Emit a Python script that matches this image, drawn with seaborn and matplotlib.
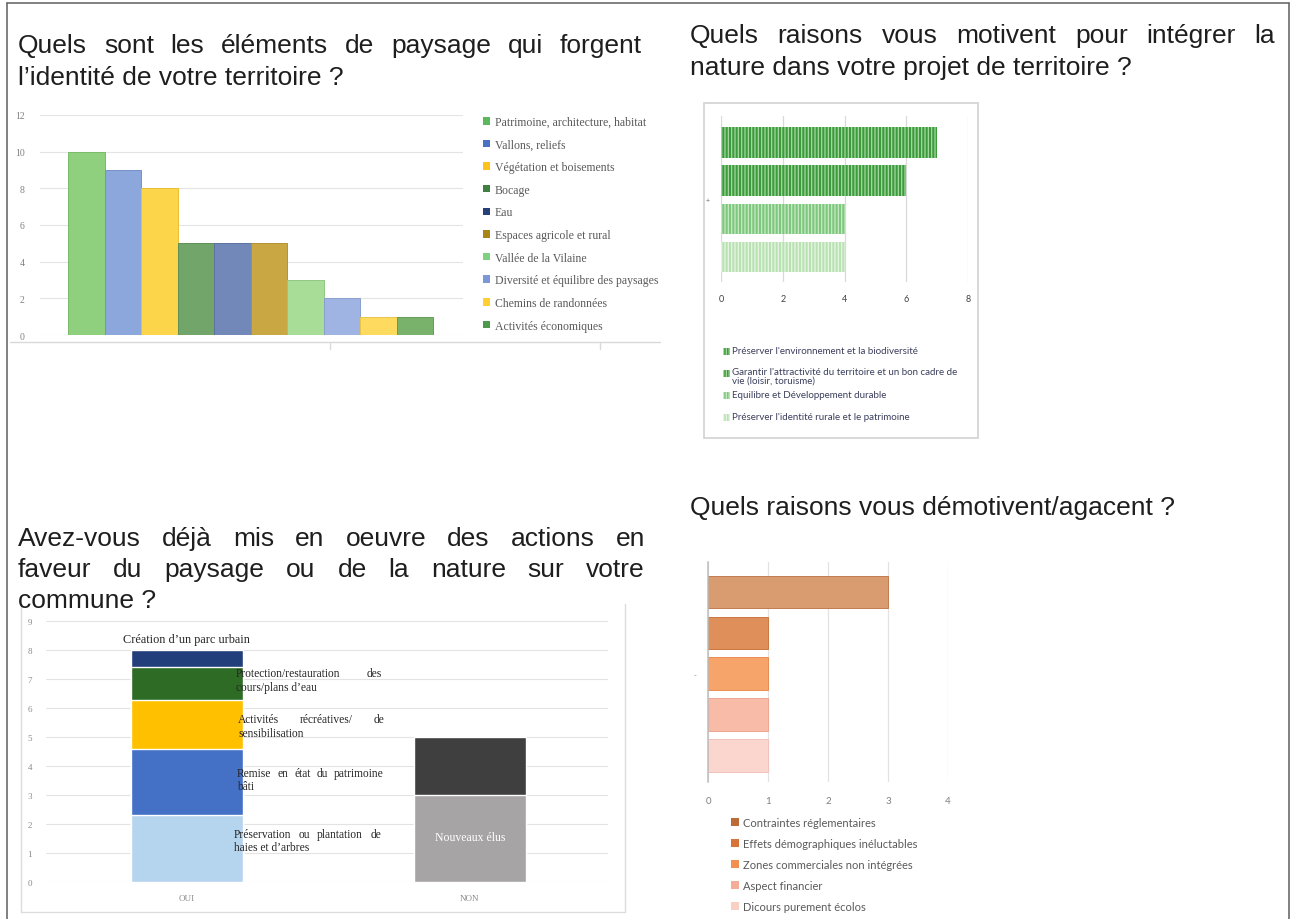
import matplotlib
matplotlib.use("Agg")
import matplotlib.pyplot as plt
from matplotlib.patches import Rectangle
from matplotlib.lines import Line2D
import pandas as pd
import seaborn as sns

# ---------------- data ----------------
paysage_labels = [
    "Patrimoine, architecture, habitat", "Vallons, reliefs", "Végétation et boisements",
    "Bocage", "Eau", "Espaces agricole et rural", "Vallée de la Vilaine",
    "Diversité et équilibre des paysages", "Chemins de randonnées", "Activités économiques",
]
paysage_counts = [10, 9, 8, 5, 5, 5, 3, 2, 1, 1]

motiv_labels = [
    "Préserver l'environnement et la biodiversité",
    "Garantir l'attractivité du territoire et un bon cadre de\nvie (loisir, toruisme)",
    "Equilibre et Développement durable",
    "Préserver l'identité rurale et le patrimoine",
]
motiv_counts = [7, 6, 4, 4]

actions_cats = ["OUI", "NON"]
oui_actions = [
    "Préservation ou plantation de haies et d’arbres",
    "Remise en état du patrimoine bâti",
    "Activités récréatives/ de sensibilisation",
    "Protection/restauration des cours/plans d’eau",
    "Création d’un parc urbain",
]
oui_values = [2.3, 2.28, 1.7, 1.15, 0.57]
non_actions = ["Nouveaux élus", ""]
non_values = [3, 2]

demot_labels = [
    "Contraintes réglementaires", "Effets démographiques inéluctables",
    "Zones commerciales non intégrées", "Aspect financier", "Dicours purement écolos",
]
demot_counts = [3, 1, 1, 1, 1]

title_1 = ["Quels sont les éléments de paysage qui forgent", "l’identité de votre territoire ?"]
title_2 = ["Quels raisons vous motivent pour intégrer la", "nature dans votre projet de territoire ?"]
title_3 = ["Avez-vous déjà mis en oeuvre des actions en",
           "faveur du paysage ou de la nature sur votre", "commune ?"]
title_4 = ["Quels raisons vous démotivent/agacent ?"]

# ---------------- styling ----------------
paysage_colors = ["#8fd07f", "#8ba7dc", "#fdd54b", "#72a56a", "#7288b8",
                  "#c9a843", "#a8dd98", "#a0b4e3", "#fedb5e", "#78b26b"]
paysage_edges = ["#78bb6a", "#7690c8", "#e8bf35", "#5f8f58", "#5d72a0",
                 "#b39232", "#90c884", "#8a9fcf", "#e8c448", "#649c5a"]
paysage_swatch = ["#5cb85c", "#4a72c4", "#ffc21a", "#3f7f3f", "#26407a",
                  "#a98417", "#7fd07f", "#7c97d6", "#ffcf33", "#4d9a4d"]

motiv_faces = ["#3c9b3c", "#3c9b3c", "#7ec77e", "#b9e2b3"]
motiv_stripes = ["#a6d8a0", "#a6d8a0", "#c8ebc4", "#e6f5e3"]

oui_colors = ["#b5d4ee", "#4470c6", "#ffc000", "#2e6b24", "#223f7c"]
non_colors = ["#a6a4a4", "#3f3f3f"]

demot_colors = ["#d99b70", "#de8f5a", "#f7a46b", "#f8bba8", "#fad6cf"]
demot_edges = ["#c47b50", "#c9773f", "#e88d52", "#eea592", "#f0c3ba"]
demot_swatch = ["#bd6a3b", "#d8743a", "#f2904f", "#f4ad98", "#f9cfc6"]

sns.set_theme(style="white")
plt.rcParams["font.family"] = ["Liberation Sans", "DejaVu Sans"]
plt.rcParams["hatch.linewidth"] = 0.9

SERIF = ["Liberation Serif", "DejaVu Serif"]
CALI = ["Lato", "DejaVu Sans"]

W, H = 1294, 920
fig = plt.figure(figsize=(W / 100, H / 100), dpi=100)
fig.patch.set_facecolor("white")
renderer = fig.canvas.get_renderer()


def fx(x):
    return x / W


def fy(y):
    return 1 - y / H


def box(x0, y0, x1, y1):
    return [fx(x0), fy(y1), (x1 - x0) / W, (y1 - y0) / H]


def put_line(owner, text, x0, y, x1=None, **kw):
    """Write one line of text at pixel position; spread the words to x1 if given."""
    words = text.split() if x1 is not None else [text]
    items = [owner.text(0, fy(y), w, transform=fig.transFigure, ha="left",
                        va="baseline", **kw) for w in words]
    widths = [t.get_window_extent(renderer).width for t in items]
    gap = (x1 - x0 - sum(widths)) / (len(words) - 1) if len(words) > 1 else 0
    pos = x0
    for t, w in zip(items, widths):
        t.set_x(fx(pos))
        pos += w + gap
    return items


def put_title(lines, x0, x1, y0, step):
    for i, line in enumerate(lines):
        last = i == len(lines) - 1
        put_line(fig, line, x0, y0 + i * step, None if last else x1,
                 fontsize=19, color="#1e1e1e")


def hline(x0, x1, y, **kw):
    fig.add_artist(Line2D([fx(x0), fx(x1)], [fy(y), fy(y)], transform=fig.transFigure, **kw))


def vline(x, y0, y1, **kw):
    fig.add_artist(Line2D([fx(x), fx(x)], [fy(y0), fy(y1)], transform=fig.transFigure, **kw))


# page frame
frame = dict(color="#6b6b6b", lw=1.2)
hline(7, 1289, 4, **frame)
vline(7, 4, 920, **frame)
vline(1289, 4, 920, **frame)

# ---------------- titles ----------------
put_title(title_1, 18, 642, 53, 32)
put_title(title_2, 690, 1275, 43, 32)
put_title(title_3, 18, 645, 546, 31)
put_title(title_4, 690, None, 515, 32)

# ---------------- chart 1 : landscape elements ----------------
ax1 = fig.add_axes(box(40, 116, 463, 336))
df1 = pd.DataFrame({"element": paysage_labels, "n": paysage_counts})
sns.barplot(data=df1, x="element", y="n", hue="element", palette=paysage_colors,
            width=1, saturation=1, legend=False, ax=ax1)
for p, ec in zip(ax1.patches, paysage_edges):
    p.set_edgecolor(ec)
    p.set_linewidth(0.7)
ax1.set_xlim(-1.267, 10.32)
ax1.set_ylim(0, 12)
ax1.set_yticks(range(0, 13, 2))
ax1.set_xticks([])
ax1.set_xlabel("")
ax1.set_ylabel("")
ax1.grid(axis="y", color="#e4e4e4", lw=0.8)
ax1.set_axisbelow(True)
sns.despine(ax=ax1, left=True, bottom=True)
ax1.tick_params(axis="y", length=0, pad=11, labelsize=7, labelcolor="#808080")
for lab in ax1.get_yticklabels():
    lab.set_fontfamily(SERIF)
handles1 = [Rectangle((0, 0), 1, 1, fc=c, ec="none") for c in paysage_swatch]
fig.legend(handles1, paysage_labels, loc="upper left", bbox_to_anchor=(fx(483), fy(117)),
           frameon=False, borderpad=0, borderaxespad=0, handlelength=0.6, handleheight=0.6,
           handletextpad=0.4, labelspacing=0.9, labelcolor="#5a5a5a",
           prop={"family": SERIF, "size": 8.5})
hline(10, 660, 343, color="#d9d9d9", lw=1)
vline(330, 343, 350, color="#d9d9d9", lw=1)
vline(600, 343, 350, color="#d9d9d9", lw=1)

# ---------------- chart 2 : motivations ----------------
fig.add_artist(Rectangle((fx(704), fy(439)), (978 - 704) / W, (439 - 104) / H,
                         transform=fig.transFigure, fc="none", ec="#d2d2d2", lw=1.2))
ax2 = fig.add_axes(box(721, 117, 968, 283))
df2 = pd.DataFrame({"raison": motiv_labels, "n": motiv_counts})
sns.barplot(data=df2, y="raison", x="n", hue="raison", palette=motiv_faces, orient="h",
            width=0.8, saturation=1, legend=False, ax=ax2)
for p, stripe in zip(ax2.patches, motiv_stripes):
    p.set_hatch("|||||")
    p.set_edgecolor(stripe)
    p.set_linewidth(0)
ax2.set_xlim(0, 8)
ax2.set_ylim(3.654, -0.694)
ax2.set_xticks(range(0, 9, 2))
ax2.set_yticks([])
ax2.set_xlabel("")
ax2.set_ylabel("")
ax2.grid(axis="x", color="#d9d9d9", lw=0.9)
ax2.set_axisbelow(True)
sns.despine(ax=ax2, left=True, bottom=True)
ax2.tick_params(axis="x", length=0, pad=9, labelsize=6.5, labelcolor="#404040")
for lab in ax2.get_xticklabels():
    lab.set_fontfamily(CALI)
fig.text(fx(708), fy(201), "+", fontsize=5, color="#707070", ha="center", va="center")

legend2_y = [352, 374, 396, 418]
for lab, face, stripe, y in zip(motiv_labels, motiv_faces, motiv_stripes, legend2_y):
    fig.add_artist(Rectangle((fx(723), fy(y + 3.5)), 7 / W, 7 / H, transform=fig.transFigure,
                             fc=face, ec=stripe, lw=0, hatch="||||||"))
    two_lines = "\n" in lab
    fig.text(fx(732), fy(y - 6) if two_lines else fy(y), lab, fontsize=7,
             color="#3a3f5c", family=CALI, ha="left",
             va="top" if two_lines else "center", linespacing=1.0)

# ---------------- chart 3 : actions already carried out ----------------
panel3 = dict(color="#dcdcdc", lw=1)
vline(21, 605, 913, **panel3)
vline(625, 605, 913, **panel3)
hline(21, 625, 913, **panel3)
ax3 = fig.add_axes(box(46, 622, 608, 883))
for cat, vals, cols in (("OUI", oui_values, oui_colors), ("NON", non_values, non_colors)):
    tops = pd.Series(vals).cumsum().tolist()
    for top, col in reversed(list(zip(tops, cols))):
        sns.barplot(x=[cat], y=[top], order=actions_cats, color=col, width=0.396,
                    saturation=1, ax=ax3)
ax3.set_xlim(-0.498, 1.488)
ax3.set_ylim(0, 9)
ax3.set_yticks(range(0, 10))
ax3.set_xlabel("")
ax3.set_ylabel("")
ax3.grid(axis="y", color="#e3e3e3", lw=0.8)
ax3.set_axisbelow(True)
sns.despine(ax=ax3, left=True, bottom=True)
ax3.tick_params(axis="both", length=0, labelsize=6.5, labelcolor="#8a8a8a")
ax3.tick_params(axis="y", pad=10)
ax3.tick_params(axis="x", pad=9)
for lab in ax3.get_yticklabels() + ax3.get_xticklabels():
    lab.set_fontfamily(SERIF)

note = dict(fontsize=8.3, color="#262626", family=SERIF, zorder=3)
put_line(ax3, "Création d’un parc urbain", 123, 643, **dict(note, fontsize=8.8))
put_line(ax3, "Protection/restauration des", 236, 677, 382, **note)
put_line(ax3, "cours/plans d’eau", 236, 691, **note)
put_line(ax3, "Activités récréatives/ de", 238, 723, 384, **note)
put_line(ax3, "sensibilisation", 238, 737, **note)
put_line(ax3, "Remise en état du patrimoine", 237, 777, 384, **note)
put_line(ax3, "bâti", 237, 790, **note)
put_line(ax3, "Préservation ou plantation de", 234, 838, 381, **note)
put_line(ax3, "haies et d’arbres", 234, 851, **note)
ax3.text(1, non_values[0] / 2 + 0.05, non_actions[0], ha="center", va="center",
         fontsize=8.5, color="white", family=SERIF, zorder=3)

# ---------------- chart 4 : what is discouraging ----------------
ax4 = fig.add_axes(box(708, 563, 948, 783))
df4 = pd.DataFrame({"raison": demot_labels, "n": demot_counts})
sns.barplot(data=df4, y="raison", x="n", hue="raison", palette=demot_colors, orient="h",
            width=0.795, saturation=1, legend=False, ax=ax4)
for p, ec in zip(ax4.patches, demot_edges):
    p.set_edgecolor(ec)
    p.set_linewidth(0.7)
ax4.set_xlim(0, 4)
ax4.set_ylim(4.648, -0.733)
ax4.set_xticks(range(0, 5))
ax4.set_yticks([])
ax4.set_xlabel("")
ax4.set_ylabel("")
ax4.grid(axis="x", color="#e2e2e2", lw=0.9)
ax4.set_axisbelow(True)
sns.despine(ax=ax4, left=False, bottom=True)
ax4.spines["left"].set_color("#bdbdbd")
ax4.spines["left"].set_linewidth(1.1)
ax4.tick_params(axis="x", length=0, pad=10, labelsize=7, labelcolor="#7f7f7f")
for lab in ax4.get_xticklabels():
    lab.set_fontfamily(CALI)
fig.text(fx(695), fy(676), "-", fontsize=6, color="#909090", ha="center", va="center")
handles4 = [Rectangle((0, 0), 1, 1, fc=c, ec="none") for c in demot_swatch]
fig.legend(handles4, demot_labels, loc="upper left", bbox_to_anchor=(fx(731), fy(818)),
           frameon=False, borderpad=0, borderaxespad=0, handlelength=0.7, handleheight=0.7,
           handletextpad=0.35, labelspacing=0.9, labelcolor="#5a5a5a",
           prop={"family": CALI, "size": 8})

fig.savefig("out.png", dpi=100, facecolor="white")
